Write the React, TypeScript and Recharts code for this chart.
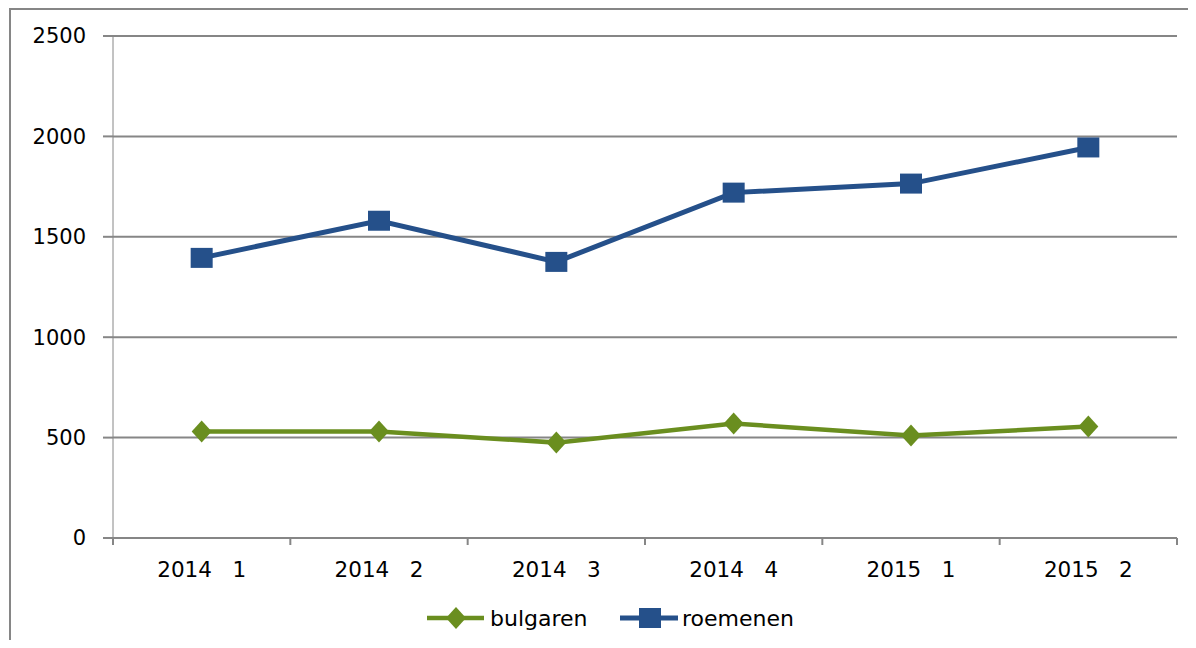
import { LineChart, Line, XAxis, YAxis, CartesianGrid, Legend } from 'recharts'

const categories = ['2014   1', '2014   2', '2014   3', '2014   4', '2015   1', '2015   2']
const bulgaren = [530, 530, 475, 570, 510, 555]
const roemenen = [1395, 1580, 1375, 1720, 1765, 1945]
const yTicks = [0, 500, 1000, 1500, 2000, 2500]

const GREEN = '#6a8e1f'
const BLUE = '#25508a'
const GRID = '#868686'
const FONT = '"DejaVu Sans", sans-serif'

const data = categories.map((label, i) => ({
  x: i + 0.5,
  label,
  bulgaren: bulgaren[i],
  roemenen: roemenen[i],
}))

// ticks at every boundary (integers) and labels at every centre (halves)
const xTicks = Array.from({ length: categories.length * 2 + 1 }, (_, i) => i / 2)

function Diamond(props: any) {
  const { cx, cy } = props
  if (cx == null || cy == null) return null
  return (
    <polygon
      points={`${cx},${cy - 11} ${cx + 10},${cy} ${cx},${cy + 11} ${cx - 10},${cy}`}
      fill={GREEN}
    />
  )
}

function Square(props: any) {
  const { cx, cy } = props
  if (cx == null || cy == null) return null
  return <rect x={cx - 11} y={cy - 10} width={22} height={20} fill={BLUE} />
}

function XTick(props: any) {
  const { x, y, payload } = props
  const v = payload.value as number
  if (Number.isInteger(v)) {
    return <line x1={x} y1={y} x2={x} y2={y + 7} stroke={GRID} strokeWidth={2} />
  }
  const label = categories[Math.floor(v)]
  return (
    <text
      x={x}
      y={y + 39}
      textAnchor="middle"
      fontSize={21.5}
      fontFamily={FONT}
      fill="#000"
      style={{ whiteSpace: 'pre' }}
    >
      {label}
    </text>
  )
}

function LegendContent() {
  return (
    <div style={{ position: 'relative', height: 50 }}>
      <svg width={1196} height={50} style={{ position: 'absolute', left: 0, top: 0 }}>
        <line x1={427} y1={20} x2={484} y2={20} stroke={GREEN} strokeWidth={4.5} />
        <Diamond cx={456} cy={20} />
        <text x={490} y={28} fontSize={22} fontFamily={FONT} fill="#000">
          bulgaren
        </text>
        <line x1={620} y1={20} x2={678} y2={20} stroke={BLUE} strokeWidth={5} />
        <Square cx={650} cy={20} />
        <text x={682} y={28} fontSize={22} fontFamily={FONT} fill="#000">
          roemenen
        </text>
      </svg>
    </div>
  )
}

export default function App() {
  return (
    <div
      style={{
        position: 'relative',
        margin: -8,
        width: 1196,
        height: 648,
        background: '#fff',
        overflow: 'hidden',
      }}
    >
      <div
        style={{
          position: 'absolute',
          left: 9,
          top: 8,
          width: 1196,
          height: 648,
          borderLeft: `2px solid ${GRID}`,
          borderTop: `2px solid ${GRID}`,
        }}
      />
      <LineChart
        width={1196}
        height={648}
        data={data}
        margin={{ top: 36, right: 19, left: 0, bottom: 0 }}
      >
        <CartesianGrid vertical={false} stroke={GRID} strokeWidth={2} />
        <XAxis
          dataKey="x"
          type="number"
          domain={[0, categories.length]}
          ticks={xTicks}
          interval={0}
          allowDecimals
          height={60}
          tickSize={0}
          tickMargin={0}
          tickLine={false}
          axisLine={{ stroke: GRID, strokeWidth: 2 }}
          tick={<XTick />}
        />
        <YAxis
          width={113}
          domain={[0, 2500]}
          ticks={yTicks}
          interval={0}
          tickSize={10}
          tickMargin={17}
          tickLine={{ stroke: GRID, strokeWidth: 2 }}
          axisLine={{ stroke: GRID, strokeWidth: 1 }}
          tick={{ fontSize: 21, fill: '#000', fontFamily: FONT }}
        />
        <Legend
          verticalAlign="bottom"
          height={50}
          wrapperStyle={{ left: 0, width: 1196 }}
          content={<LegendContent />}
        />
        <Line
          dataKey="bulgaren"
          stroke={GREEN}
          strokeWidth={4.5}
          dot={<Diamond />}
          activeDot={false}
          isAnimationActive={false}
        />
        <Line
          dataKey="roemenen"
          stroke={BLUE}
          strokeWidth={5}
          dot={<Square />}
          activeDot={false}
          isAnimationActive={false}
        />
      </LineChart>
    </div>
  )
}
